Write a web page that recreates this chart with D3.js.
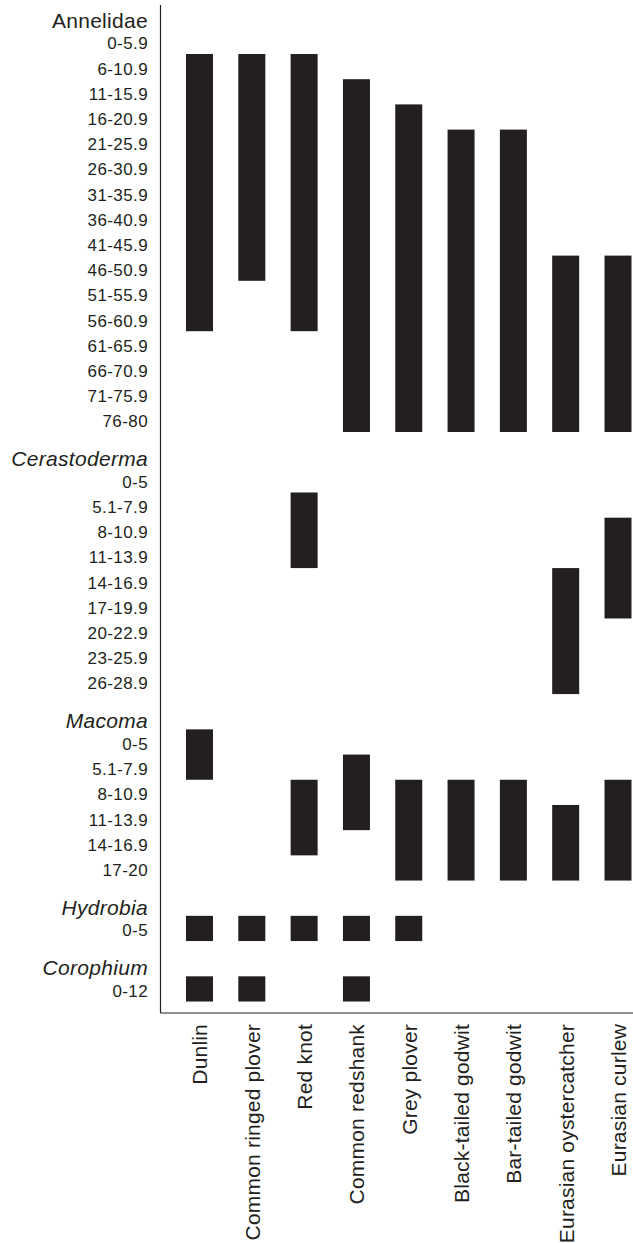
<!DOCTYPE html>
<meta charset="utf-8">
<style>
  body { margin: 0; background: #ffffff; }
  text { font-family: "Liberation Sans", Arial, Helvetica, sans-serif; fill: #231f20; }
  .grp { font-size: 21px; letter-spacing: 0.3px; }
  .cls { font-size: 17px; letter-spacing: 0.4px; }
  .sp text { font-size: 21px; letter-spacing: 0.2px; }
  .bar { fill: #231f20; }
  .axisline { stroke: #231f20; stroke-width: 1.2; }
</style>
<body>
<svg id="chart"></svg>
<script src="https://d3js.org/d3.v7.min.js"></script>
<script>
// bird species along the bottom
var species = ["Dunlin", "Common ringed plover", "Red knot", "Common redshank", "Grey plover",
  "Black-tailed godwit", "Bar-tailed godwit", "Eurasian oystercatcher", "Eurasian curlew"];

// prey groups and their size classes (mm)
var groupNames = ["Annelidae", "Cerastoderma", "Macoma", "Hydrobia", "Corophium"];
var groupItalic = [false, true, true, true, true];
var annelidaeSizes = ["0-5.9", "6-10.9", "11-15.9", "16-20.9", "21-25.9", "26-30.9", "31-35.9", "36-40.9",
  "41-45.9", "46-50.9", "51-55.9", "56-60.9", "61-65.9", "66-70.9", "71-75.9", "76-80"];
var cerastodermaSizes = ["0-5", "5.1-7.9", "8-10.9", "11-13.9", "14-16.9", "17-19.9", "20-22.9", "23-25.9", "26-28.9"];
var macomaSizes = ["0-5", "5.1-7.9", "8-10.9", "11-13.9", "14-16.9", "17-20"];
var hydrobiaSizes = ["0-5"];
var corophiumSizes = ["0-12"];

// size range taken by each species: [species, first class, last class]
var annelidaeRanges = [
  ["Dunlin", "6-10.9", "56-60.9"],
  ["Common ringed plover", "6-10.9", "46-50.9"],
  ["Red knot", "6-10.9", "56-60.9"],
  ["Common redshank", "11-15.9", "76-80"],
  ["Grey plover", "16-20.9", "76-80"],
  ["Black-tailed godwit", "21-25.9", "76-80"],
  ["Bar-tailed godwit", "21-25.9", "76-80"],
  ["Eurasian oystercatcher", "46-50.9", "76-80"],
  ["Eurasian curlew", "46-50.9", "76-80"]
];
var cerastodermaRanges = [
  ["Red knot", "5.1-7.9", "11-13.9"],
  ["Eurasian oystercatcher", "14-16.9", "26-28.9"],
  ["Eurasian curlew", "8-10.9", "17-19.9"]
];
var macomaRanges = [
  ["Dunlin", "0-5", "5.1-7.9"],
  ["Red knot", "8-10.9", "14-16.9"],
  ["Common redshank", "5.1-7.9", "11-13.9"],
  ["Grey plover", "8-10.9", "17-20"],
  ["Black-tailed godwit", "8-10.9", "17-20"],
  ["Bar-tailed godwit", "8-10.9", "17-20"],
  ["Eurasian oystercatcher", "11-13.9", "17-20"],
  ["Eurasian curlew", "8-10.9", "17-20"]
];
var hydrobiaRanges = [
  ["Dunlin", "0-5", "0-5"],
  ["Common ringed plover", "0-5", "0-5"],
  ["Red knot", "0-5", "0-5"],
  ["Common redshank", "0-5", "0-5"],
  ["Grey plover", "0-5", "0-5"]
];
var corophiumRanges = [
  ["Dunlin", "0-12", "0-12"],
  ["Common ringed plover", "0-12", "0-12"],
  ["Common redshank", "0-12", "0-12"]
];

var groupSizes = [annelidaeSizes, cerastodermaSizes, macomaSizes, hydrobiaSizes, corophiumSizes];
var groupRanges = [annelidaeRanges, cerastodermaRanges, macomaRanges, hydrobiaRanges, corophiumRanges];

// layout
var width = 633, height = 1243;
var axisX = 160.5, axisTop = 5, axisBottom = 1013;
var labelRight = 148;
var barWidth = 27;
var groupGap = 2.4;      // units between last row of a group and first row of the next
var headerOffset = 0.83; // group title above its first row, in units

var svg = d3.select("#chart").attr("width", width).attr("height", height);

// row unit positions
var groupStart = [];
var u = 0;
groupSizes.forEach(function(sizes, g) {
  if (g > 0) u += groupGap;
  groupStart.push(u);
  u += sizes.length - 1;
});

var y = d3.scaleLinear().domain([0, 1]).range([41.4, 41.4 + 25.2]);
var x = d3.scalePoint().domain(species).range([199.5, 618]);

// group titles and size-class labels
groupNames.forEach(function(name, g) {
  svg.append("text")
    .attr("class", "grp")
    .attr("x", labelRight)
    .attr("y", y(groupStart[g] - headerOffset))
    .attr("dy", "0.35em")
    .attr("text-anchor", "end")
    .style("font-style", groupItalic[g] ? "italic" : "normal")
    .text(name);

  svg.selectAll(null)
    .data(groupSizes[g])
    .enter().append("text")
    .attr("class", "cls")
    .attr("x", labelRight)
    .attr("y", function(d, i) { return y(groupStart[g] + i) + 2; })
    .attr("dy", "0.35em")
    .attr("text-anchor", "end")
    .text(function(d) { return d; });
});

// bars
var step = y(1) - y(0);
groupRanges.forEach(function(ranges, g) {
  var sizes = groupSizes[g];
  svg.selectAll(null)
    .data(ranges)
    .enter().append("rect")
    .attr("class", "bar")
    .attr("x", function(d) { return x(d[0]) - barWidth / 2; })
    .attr("y", function(d) { return y(groupStart[g] + sizes.indexOf(d[1]) - 0.5); })
    .attr("width", barWidth)
    .attr("height", function(d) { return (sizes.indexOf(d[2]) - sizes.indexOf(d[1]) + 1) * step; });
});

// axis lines
svg.append("line").attr("class", "axisline")
  .attr("x1", axisX).attr("x2", axisX).attr("y1", axisTop).attr("y2", axisBottom);
svg.append("line").attr("class", "axisline")
  .attr("x1", axisX).attr("x2", width).attr("y1", axisBottom).attr("y2", axisBottom);

// species labels
var xAxis = svg.append("g")
  .attr("class", "sp")
  .attr("transform", "translate(0," + axisBottom + ")")
  .call(d3.axisBottom(x).tickSize(0).tickPadding(0));
xAxis.select(".domain").remove();
xAxis.selectAll("text")
  .attr("text-anchor", "end")
  .attr("fill", "#231f20")
  .attr("transform", "translate(0,11) rotate(-90)")
  .attr("x", 0).attr("y", 0)
  .attr("dy", "0.35em");
</script>
</body>
